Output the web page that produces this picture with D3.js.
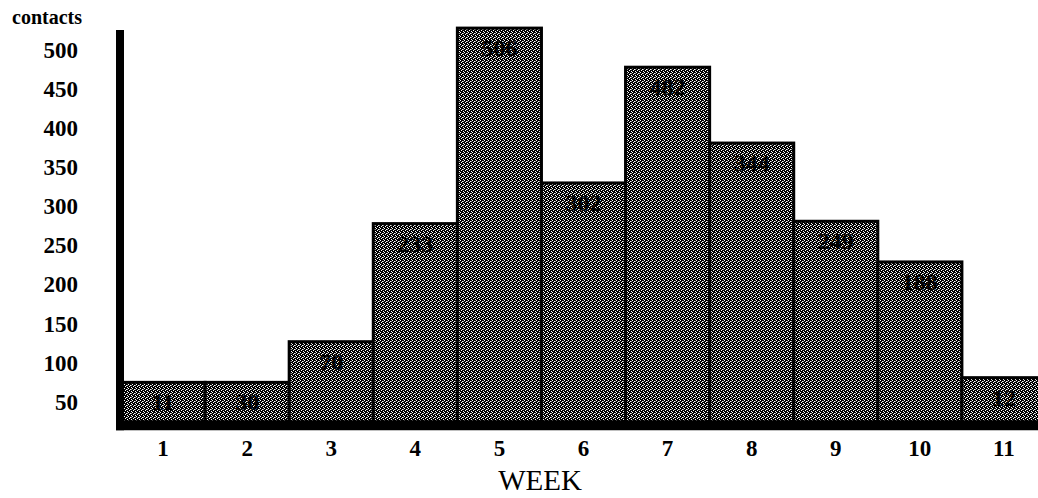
<!DOCTYPE html>
<html>
<head>
<meta charset="utf-8">
<script src="https://cdn.jsdelivr.net/npm/d3@7"></script>
<style>
  body { margin: 0; background: #fff; }
  text { font-family: "Liberation Serif", "DejaVu Serif", serif; fill: #000; }
</style>
</head>
<body>
<div id="chart"></div>
<script>
var weeks = [1, 2, 3, 4, 5, 6, 7, 8, 9, 10, 11];
var barHeights = [75, 75, 127, 278, 528, 330, 478, 381, 281, 229, 81];
var barLabels = ["11", "30", "70", "233", "506", "302", "482", "344", "249", "188", "12"];
var yTicks = [50, 100, 150, 200, 250, 300, 350, 400, 450, 500];
var baseValue = 20; // where the x axis sits on the y scale

var W = 1038, H = 498;

var svg = d3.select("#chart").append("svg")
  .attr("width", W)
  .attr("height", H);

// dither-like dark grey fill (scanned halftone look)
var dots = [[0, 0], [2, 1], [1, 2], [3, 3], [3, 1]];
var pat = svg.append("defs").append("pattern")
  .attr("id", "dither")
  .attr("patternUnits", "userSpaceOnUse")
  .attr("width", 4)
  .attr("height", 4)
  .attr("shape-rendering", "crispEdges");
pat.append("rect").attr("width", 4).attr("height", 4).attr("fill", "#000");
pat.selectAll("rect.dot")
  .data(dots)
  .enter().append("rect")
  .attr("class", "dot")
  .attr("x", function(d) { return d[0]; })
  .attr("y", function(d) { return d[1]; })
  .attr("width", 1)
  .attr("height", 1)
  .attr("fill", function(d, i) { return i == 4 ? "#999" : "#fff"; });

var x = d3.scaleBand()
  .domain(weeks)
  .range([121, 1046])
  .padding(0);

var y = d3.scaleLinear()
  .domain([0, 500])
  .range([441, 50]);

// bars
var bars = svg.selectAll("g.bar")
  .data(weeks)
  .enter().append("g")
  .attr("class", "bar");

bars.append("rect")
  .attr("x", function(d) { return x(d); })
  .attr("y", function(d, i) { return y(barHeights[i]); })
  .attr("width", x.bandwidth())
  .attr("height", function(d, i) { return y(baseValue) - y(barHeights[i]); })
  .attr("fill", "url(#dither)")
  .attr("stroke", "#000")
  .attr("stroke-width", 3);

bars.append("text")
  .attr("x", function(d) { return x(d) + x.bandwidth() / 2; })
  .attr("y", function(d, i) { return y(barHeights[i]) + 28; })
  .attr("text-anchor", "middle")
  .style("font-size", "24px")
  .style("font-weight", "bold")
  .text(function(d, i) { return barLabels[i]; });

// y axis labels
var yAxis = svg.append("g")
  .attr("transform", "translate(120,0)")
  .call(d3.axisLeft(y).tickValues(yTicks).tickSize(0).tickPadding(42));
yAxis.select(".domain").remove();
yAxis.selectAll("text")
  .style("font-family", "Liberation Serif")
  .style("font-size", "23px")
  .style("font-weight", "bold")
  .attr("fill", "#000");

// x axis labels
var xAxis = svg.append("g")
  .attr("transform", "translate(0," + y(baseValue) + ")")
  .call(d3.axisBottom(x).tickSize(0).tickPadding(14));
xAxis.select(".domain").remove();
xAxis.selectAll("text")
  .style("font-family", "Liberation Serif")
  .style("font-size", "23px")
  .style("font-weight", "bold")
  .attr("fill", "#000");

// heavy axis lines
svg.append("line")
  .attr("x1", 120).attr("x2", 120)
  .attr("y1", 30).attr("y2", y(baseValue) + 5)
  .attr("stroke", "#000")
  .attr("stroke-width", 8);

svg.append("line")
  .attr("x1", 116).attr("x2", W)
  .attr("y1", y(baseValue)).attr("y2", y(baseValue))
  .attr("stroke", "#000")
  .attr("stroke-width", 10);

// titles
svg.append("text")
  .attr("x", 12)
  .attr("y", 24)
  .style("font-size", "20px")
  .style("font-weight", "bold")
  .text("contacts");

svg.append("text")
  .attr("x", 540)
  .attr("y", 490)
  .attr("text-anchor", "middle")
  .style("font-size", "29px")
  .text("WEEK");
</script>
</body>
</html>
